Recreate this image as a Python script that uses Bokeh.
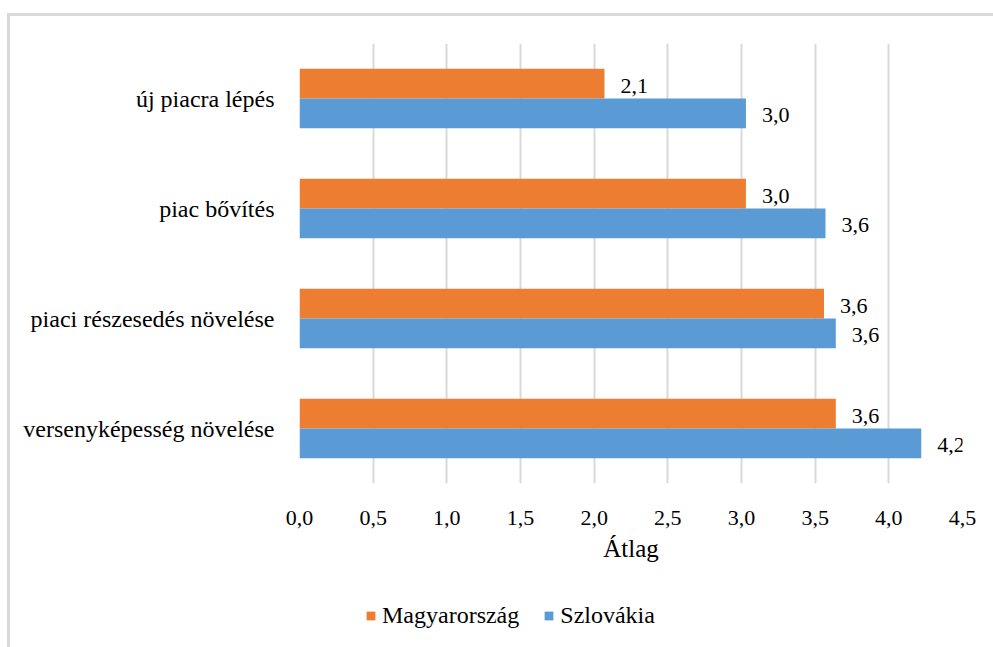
from bokeh.plotting import figure
from bokeh.layouts import column
from bokeh.models import (ColumnDataSource, FactorRange, FixedTicker, CustomJSTickFormatter,
                          LabelSet, Legend, LegendItem)
from bokeh.transform import dodge
from bokeh.core.properties import value
from bokeh.embed import file_html
from bokeh.resources import INLINE

categories = ["új piacra lépés", "piac bővítés", "piaci részesedés növelése", "versenyképesség növelése"]
magyarorszag = [2.07, 3.03, 3.56, 3.64]
szlovakia = [3.03, 3.57, 3.64, 4.22]
x_ticks = [0, 0.5, 1.0, 1.5, 2.0, 2.5, 3.0, 3.5, 4.0, 4.5]
series_names = ["Magyarország", "Szlovákia"]

FONT = "Liberation Serif"
ORANGE = "#ED7D31"
BLUE = "#5B9BD5"
GRID = "#d9d9d9"

def fmt(v):
    return f"{v:.1f}".replace(".", ",")

src = ColumnDataSource(dict(
    cat=categories,
    hu=magyarorszag,
    sk=szlovakia,
    hu_lbl=[fmt(v) for v in magyarorszag],
    sk_lbl=[fmt(v) for v in szlovakia],
))

p = figure(
    width=983, height=564,
    y_range=FactorRange(*reversed(categories)),
    x_range=(0, 4.5),
    output_backend="svg", toolbar_location=None,
    min_border_left=289, min_border_right=31, min_border_top=27, min_border_bottom=97,
)
p.outline_line_color = None

r_hu = p.hbar(y=dodge("cat", 0.135, range=p.y_range), right="hu", left=0, height=0.27,
              color=ORANGE, line_color=None, source=src)
r_sk = p.hbar(y=dodge("cat", -0.135, range=p.y_range), right="sk", left=0, height=0.27,
              color=BLUE, line_color=None, source=src)

p.add_layout(LabelSet(x="hu", y=dodge("cat", 0.135, range=p.y_range), text="hu_lbl", source=src,
                      x_offset=16, y_offset=-2, text_baseline="middle",
                      text_font=value(FONT), text_font_size="22px", text_color="#000000"))
p.add_layout(LabelSet(x="sk", y=dodge("cat", -0.135, range=p.y_range), text="sk_lbl", source=src,
                      x_offset=16, y_offset=-2, text_baseline="middle",
                      text_font=value(FONT), text_font_size="22px", text_color="#000000"))

# x axis
p.xaxis.ticker = FixedTicker(ticks=x_ticks)
p.xaxis.formatter = CustomJSTickFormatter(code="return tick.toFixed(1).replace('.', ',');")
p.xaxis.axis_line_color = None
p.xaxis.major_tick_line_color = None
p.xaxis.minor_tick_line_color = None
p.xaxis.major_label_standoff = 21
p.xaxis.major_label_text_font = FONT
p.xaxis.major_label_text_font_size = "22px"
p.xaxis.major_label_text_color = "#000000"
p.xaxis.axis_label = "Átlag"
p.xaxis.axis_label_text_font = FONT
p.xaxis.axis_label_text_font_size = "25px"
p.xaxis.axis_label_text_font_style = "normal"
p.xaxis.axis_label_text_color = "#000000"
p.xaxis.axis_label_standoff = 7

# y axis
p.yaxis.axis_line_color = None
p.yaxis.major_tick_line_color = None
p.yaxis.minor_tick_line_color = None
p.yaxis.major_label_standoff = 19
p.yaxis.major_label_text_font = FONT
p.yaxis.major_label_text_font_size = "24px"
p.yaxis.major_label_text_color = "#000000"

p.xgrid.grid_line_color = GRID
p.xgrid.grid_line_width = 2
p.ygrid.grid_line_color = None

# legend strip below the chart (swatch renderers sit outside the visible range)
pl = figure(width=983, height=67, x_range=(0, 1), y_range=(0, 1),
            output_backend="svg", toolbar_location=None,
            x_axis_location=None, y_axis_location=None,
            min_border_left=0, min_border_right=0, min_border_top=0, min_border_bottom=0)
pl.outline_line_color = None
pl.grid.grid_line_color = None
lsrc = ColumnDataSource(dict(y=[-10], right=[0.5]))
l_hu = pl.hbar(y="y", right="right", height=0.1, color=ORANGE, line_color=None, source=lsrc)
l_sk = pl.hbar(y="y", right="right", height=0.1, color=BLUE, line_color=None, source=lsrc)

legend = Legend(items=[LegendItem(label=series_names[0], renderers=[l_hu]),
                       LegendItem(label=series_names[1], renderers=[l_sk])],
                orientation="horizontal", location=(66, 18), padding=0, margin=0,
                label_text_font=FONT, label_text_font_size="24px", label_text_color="#000000",
                glyph_width=11, glyph_height=11, label_standoff=6, spacing=24,
                border_line_color=None, background_fill_alpha=0)
pl.add_layout(legend, "center")

layout = column(p, pl, spacing=0,
                styles={"border-left": f"3px solid {GRID}", "border-top": f"3px solid {GRID}",
                        "margin-left": "7px", "margin-top": "13px"})

open("out.html", "w").write(file_html(layout, INLINE))
